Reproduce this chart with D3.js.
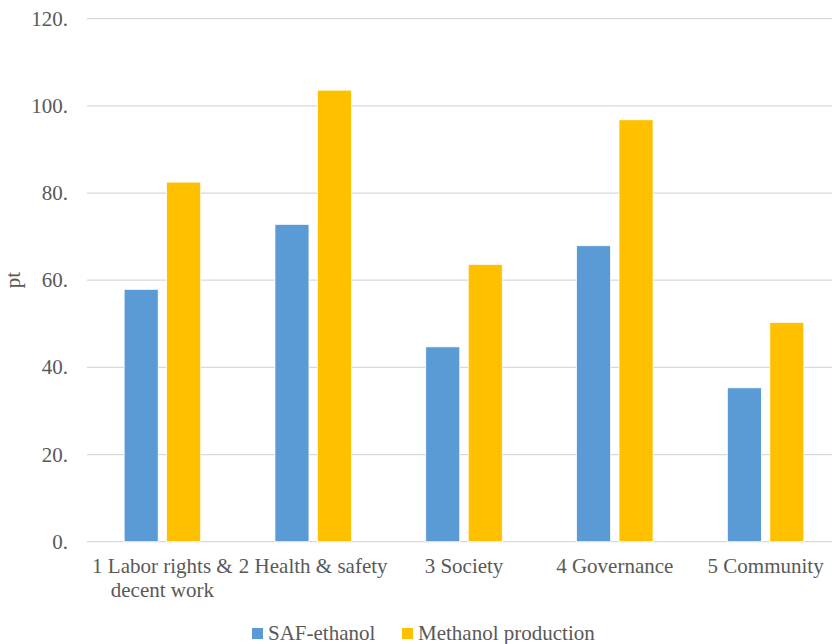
<!DOCTYPE html>
<html>
<head>
<meta charset="utf-8">
<script src="https://cdn.jsdelivr.net/npm/d3@7"></script>
<style>
  body { margin: 0; background: #fff; }
</style>
</head>
<body>
<div id="chart-area"></div>
<script>
const categories = ["1 Labor rights & decent work", "2 Health & safety", "3 Society", "4 Governance", "5 Community"];
const seriesNames = ["SAF-ethanol", "Methanol production"];
const safEthanol = [57.9, 72.8, 44.7, 67.9, 35.3];
const methanol = [82.5, 103.6, 63.6, 96.8, 50.3];
const yTicks = [0, 20, 40, 60, 80, 100, 120];

const W = 832, H = 644;
const colors = ["#5B9BD5", "#FFC000"];
const FONT = "'Liberation Serif', 'DejaVu Serif', serif";
const FS = "21px";

const svg = d3.select("#chart-area").append("svg").attr("width", W).attr("height", H)
    .style("font-family", FONT);

// plot area runs a bit past the right edge, as in the original
const x0 = d3.scaleBand().domain(categories).range([87, 841]);
const bw = x0.bandwidth();
const x1 = d3.scaleBand().domain(seriesNames).range([bw * 0.2465, bw * 0.7535]).paddingInner(0.2);
const y = d3.scaleLinear().domain([0, 120]).range([541.7, 18.7]);

// gridlines
svg.append("g").selectAll("line").data(yTicks).join("line")
    .attr("x1", 87).attr("x2", W)
    .attr("y1", d => y(d)).attr("y2", d => y(d))
    .attr("stroke", "#D9D9D9").attr("stroke-width", 1.3);

// y tick labels
svg.append("g").selectAll("text").data(yTicks).join("text")
    .attr("x", 68).attr("y", d => y(d) + 7)
    .attr("text-anchor", "end")
    .attr("font-size", FS).attr("fill", "#595959")
    .text(d => d + ".");

svg.append("text")
    .attr("transform", "translate(20,280) rotate(-90)")
    .attr("text-anchor", "middle")
    .attr("font-size", FS).attr("fill", "#595959")
    .text("pt");

// bars
const rows = categories.map((c, i) => ({ cat: c, vals: [safEthanol[i], methanol[i]] }));
const groups = svg.append("g").selectAll("g").data(rows).join("g")
    .attr("transform", d => `translate(${x0(d.cat)},0)`);
groups.selectAll("rect").data(d => d.vals.map((v, j) => ({ key: seriesNames[j], v: v, j: j }))).join("rect")
    .attr("x", d => x1(d.key))
    .attr("width", x1.bandwidth())
    .attr("y", d => y(d.v))
    .attr("height", d => y(0) - y(d.v))
    .attr("fill", d => colors[d.j])
    .attr("stroke", "#fff").attr("stroke-width", 0.7);

// category labels, wrapped to band width
const measure = svg.append("text").attr("font-size", FS).attr("visibility", "hidden");
function wrapLines(s, maxW) {
  const words = s.split(" ");
  const lines = [];
  let cur = "";
  words.forEach(w => {
    const test = cur ? cur + " " + w : w;
    measure.text(test);
    if (cur && measure.node().getComputedTextLength() > maxW) {
      lines.push(cur);
      cur = w;
    } else cur = test;
  });
  lines.push(cur);
  return lines;
}
const xl = svg.append("g").selectAll("text").data(categories).join("text")
    .attr("text-anchor", "middle")
    .attr("font-size", FS).attr("fill", "#595959")
    .attr("transform", d => `translate(${x0(d) + bw / 2},573)`);
xl.each(function(d) {
  const lines = wrapLines(d, bw - 2);
  d3.select(this).selectAll("tspan").data(lines).join("tspan")
    .attr("x", 0).attr("y", (l, i) => i * 23.5)
    .text(l => l);
});
measure.remove();

// legend
const legendX = [252, 402];
const legend = svg.append("g").selectAll("g").data(seriesNames).join("g")
    .attr("transform", (d, i) => `translate(${legendX[i]},628)`);
legend.append("rect").attr("width", 11).attr("height", 11).attr("fill", (d, i) => colors[i]);
legend.append("text").attr("x", 16).attr("y", 12)
    .attr("font-size", FS).attr("fill", "#595959").text(d => d);
</script>
</body>
</html>
